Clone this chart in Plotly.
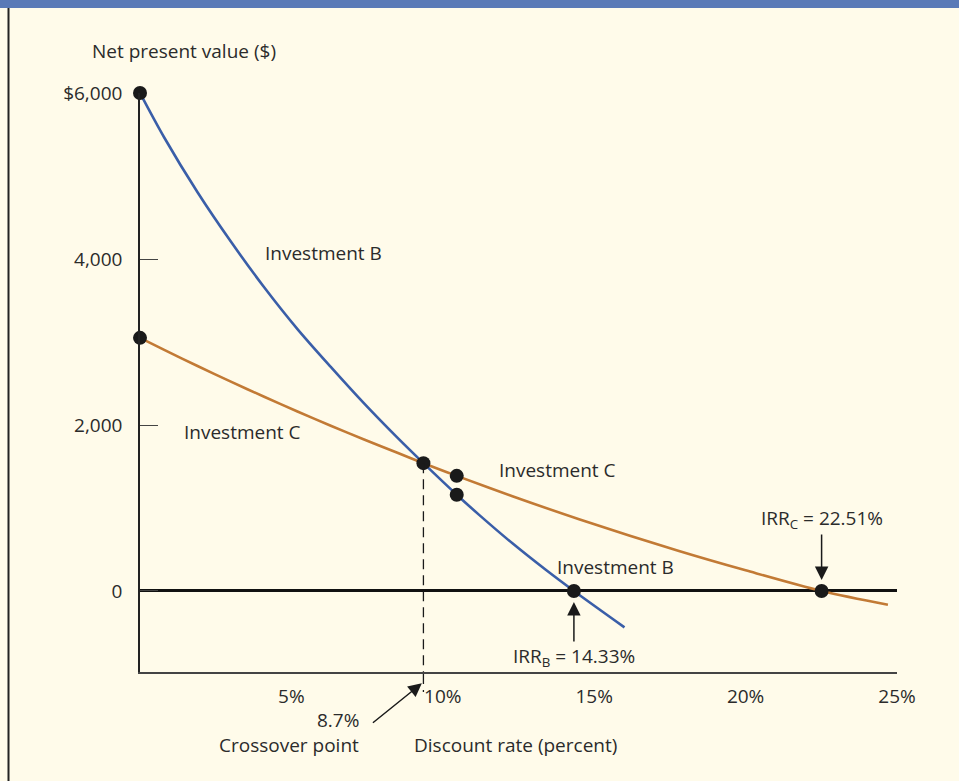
import plotly.graph_objects as go

# ---- data ----
rates_b = [0, 0.8, 1.9, 3.0, 4.1, 5.2, 6.3, 7.4, 8.5, 9.36, 10.46, 11.2, 12.3, 13.4, 14.33, 16.0]
npv_b = [6000, 5464, 4804, 4210, 3660, 3156, 2700, 2260, 1847, 1540, 1160, 917, 574, 255, 0, -438]

rates_c = [0, 0.8, 1.9, 3.0, 4.1, 5.2, 6.3, 7.4, 8.5, 9.36, 10.46, 12.3, 14.5, 17.8, 20.0, 22.51, 24.7]
npv_c = [3050, 2905, 2711, 2523, 2340, 2163, 1991, 1826, 1665, 1540, 1387, 1142, 865, 482, 249, 0, -165]

dot_rates = [0, 0, 9.36, 10.46, 10.46, 14.33, 22.51]
dot_npv = [6000, 3050, 1540, 1160, 1387, 0, 0]

crossover_rate = 9.36
crossover_npv = 1540
irr_b = 14.33
irr_c = 22.51

y_tickvals = [0, 2000, 4000, 6000]
y_ticktext = ["0", "2,000", "4,000", "$6,000"]
x_tickvals = [5, 10, 15, 20, 25]
x_ticktext = ["5%", "10%", "15%", "20%", "25%"]

x_range = [0, 25]
y_range = [-976, 6000]

BG = "#FFFBEA"
BLUE = "#3A5EA8"
ORANGE = "#C27A35"
TXT = "#2B2B2B"
FONT = "Open Sans"

# plot-area geometry (pixels) used for paper-space decorations
L, R, T, B = 140, 897, 93, 672
PW, PH = R - L, B - T


def px(xp):
    return (xp - L) / PW


def py(yp):
    return (B - yp) / PH


fig = go.Figure()

fig.add_trace(go.Scatter(x=rates_c, y=npv_c, mode="lines",
                         line=dict(color=ORANGE, width=2.6, shape="spline", smoothing=0.9),
                         hoverinfo="skip"))
fig.add_trace(go.Scatter(x=rates_b, y=npv_b, mode="lines",
                         line=dict(color=BLUE, width=2.6, shape="spline", smoothing=0.9),
                         hoverinfo="skip"))
fig.add_trace(go.Scatter(x=dot_rates, y=dot_npv, mode="markers",
                         marker=dict(color="#1A1A1A", size=14),
                         cliponaxis=False, hoverinfo="skip"))

# dashed crossover line (inside plot, then extended below the axis)
fig.add_shape(type="line", xref="x", yref="y",
              x0=crossover_rate, x1=crossover_rate, y0=crossover_npv, y1=y_range[0],
              line=dict(color="#1A1A1A", width=1.3, dash="10px,6px"))
fig.add_shape(type="line", xref="x", yref="paper",
              x0=crossover_rate, x1=crossover_rate, y0=py(674), y1=py(692),
              line=dict(color="#1A1A1A", width=1.3, dash="10px,6px"))

# top band and left border
fig.add_shape(type="rect", xref="paper", yref="paper",
              x0=px(-5), x1=px(965), y0=py(8), y1=py(-3),
              fillcolor="#5A7AB7", line=dict(width=0), layer="below")
fig.add_shape(type="line", xref="paper", yref="paper",
              x0=px(8.5), x1=px(8.5), y0=py(8), y1=py(790),
              line=dict(color="#222222", width=2))

ann_font = dict(family=FONT, size=19, color=TXT)


def label(text, x, y, xref="x", yref="y", xanchor="center"):
    fig.add_annotation(text=text, x=x, y=y, xref=xref, yref=yref, showarrow=False,
                       xanchor=xanchor, yanchor="middle", font=ann_font)


label("Investment B", 6.05, 4070)
label("Investment C", 3.4, 1915)
label("Investment C", 13.8, 1455)
label("Investment B", 15.7, 290)

label("Net present value ($)", px(90), py(51), xref="paper", yref="paper", xanchor="left")
label("Discount rate (percent)", px(412), py(745), xref="paper", yref="paper", xanchor="left")
label("Crossover point", px(361), py(745), xref="paper", yref="paper", xanchor="right")
label("8.7%", px(361), py(720), xref="paper", yref="paper", xanchor="right")

# IRR arrows
fig.add_annotation(text="IRR<sub>B</sub> = 14.33%", x=irr_b, y=0, xref="x", yref="y",
                   showarrow=True, ax=0, ay=66, arrowhead=2, arrowsize=1.8, arrowwidth=1.5,
                   arrowcolor="#1A1A1A", standoff=11, font=ann_font)
fig.add_annotation(text="IRR<sub>C</sub> = 22.51%", x=irr_c, y=0, xref="x", yref="y",
                   showarrow=True, ax=0, ay=-72, arrowhead=2, arrowsize=1.8, arrowwidth=1.5,
                   arrowcolor="#1A1A1A", standoff=11, font=ann_font)
# crossover arrow
fig.add_annotation(text="", x=crossover_rate, y=py(682), xref="x", yref="paper",
                   showarrow=True, ax=-52, ay=42, arrowhead=2, arrowsize=1.8, arrowwidth=1.5,
                   arrowcolor="#1A1A1A", standoff=2)

fig.update_xaxes(range=x_range, showgrid=False, zeroline=False, showline=True,
                 linecolor="#444444", linewidth=1.6, tickvals=x_tickvals, ticktext=x_ticktext,
                 ticks="", ticklabelstandoff=6, tickfont=ann_font, mirror=False)
fig.update_yaxes(range=y_range, showgrid=False, zeroline=True, zerolinecolor="#111111",
                 zerolinewidth=2.6, showline=True, linecolor="#222222", linewidth=1.6,
                 tickvals=y_tickvals, ticktext=y_ticktext, ticks="inside", ticklen=18,
                 tickcolor="#444444", tickwidth=1.4, ticklabelstandoff=12, tickfont=ann_font)

fig.update_layout(width=959, height=781, margin=dict(l=L, r=959 - R, t=T, b=781 - B),
                  paper_bgcolor=BG, plot_bgcolor=BG, showlegend=False)

fig.write_html("out.html", config={"displayModeBar": False},
               post_script="document.body.style.margin='0px';document.body.style.overflow='hidden';")
